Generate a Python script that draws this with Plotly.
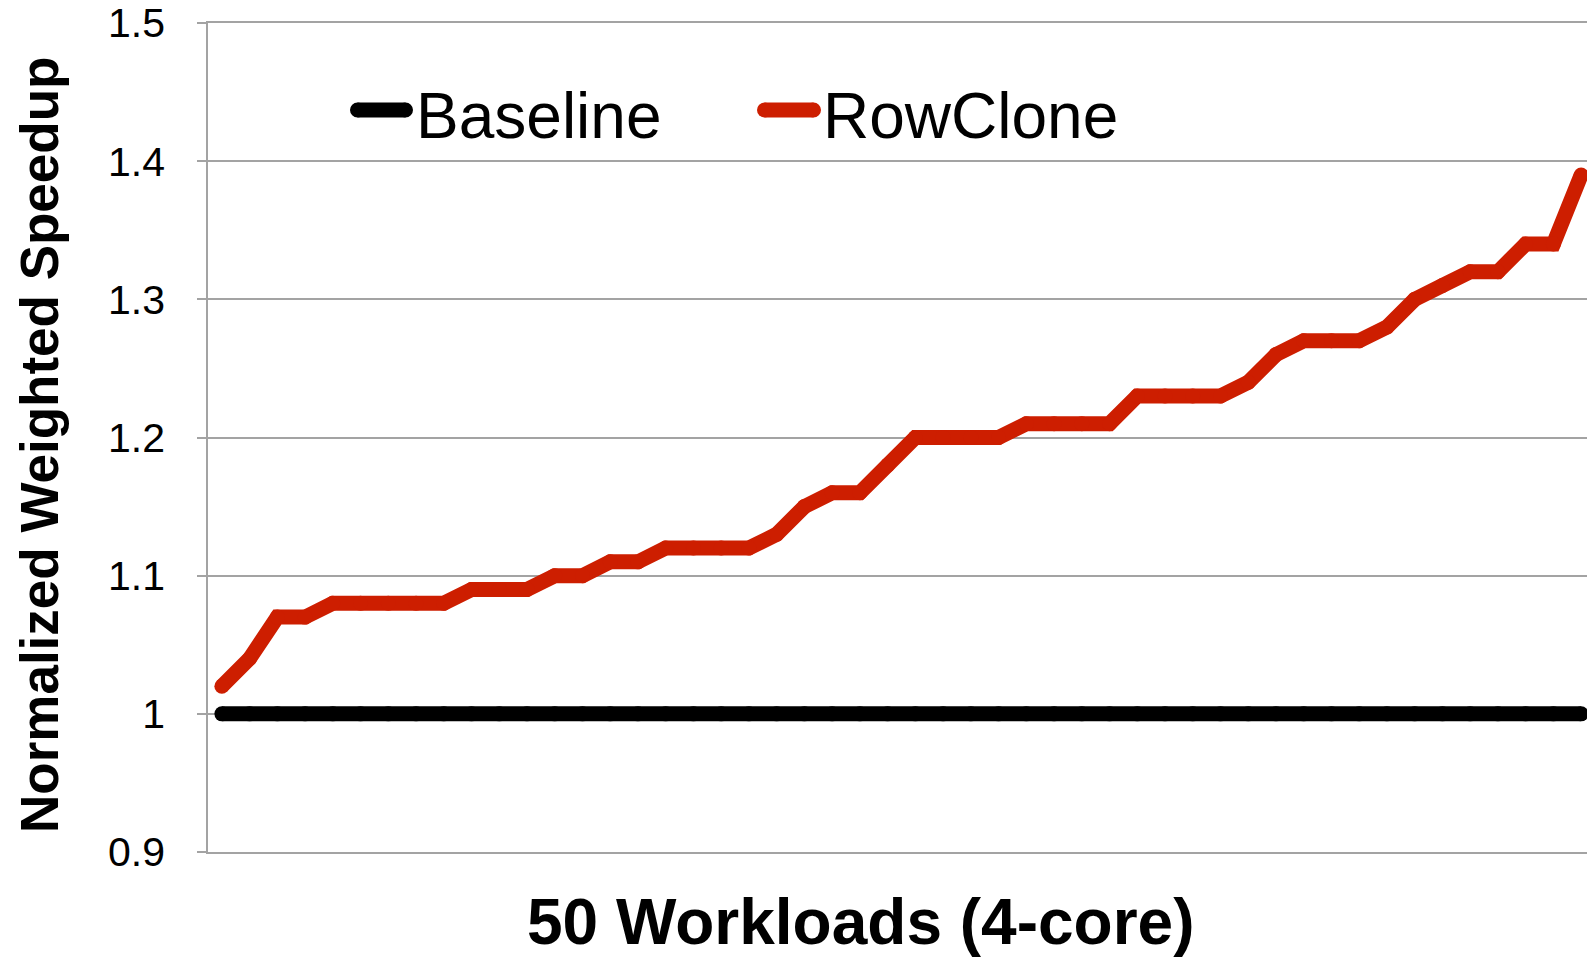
import plotly.graph_objects as go

# ---- data ----
workloads = list(range(1, 51))
baseline = [1.0] * 50
rowclone = [1.02, 1.04, 1.07, 1.07, 1.08, 1.08, 1.08, 1.08, 1.08, 1.09,
            1.09, 1.09, 1.10, 1.10, 1.11, 1.11, 1.12, 1.12, 1.12, 1.12,
            1.13, 1.15, 1.16, 1.16, 1.18, 1.20, 1.20, 1.20, 1.20, 1.21,
            1.21, 1.21, 1.21, 1.23, 1.23, 1.23, 1.23, 1.24, 1.26, 1.27,
            1.27, 1.27, 1.28, 1.30, 1.31, 1.32, 1.32, 1.34, 1.34, 1.39]
y_tickvals = [0.9, 1.0, 1.1, 1.2, 1.3, 1.4, 1.5]
y_ticktext = ["0.9", "1", "1.1", "1.2", "1.3", "1.4", "1.5"]
series_names = ["Baseline", "RowClone"]
x_title = "50 Workloads (4-core)"
y_title = "Normalized Weighted Speedup"

# ---- style ----
W, H = 1595, 958
OFF = 8  # default page body margin shifts the figure by 8px
ML, MR, MT, MB = 200, 8, 15, 114
PW, PH = W - ML - MR, H - MT - MB
FONT = "Liberation Sans, Arial, sans-serif"
BLACK = "#000000"
RED = "rgb(205,30,0)"
GRID = "#A3A3A3"
LW = 15

def px_x(p):  # screenshot pixel -> paper fraction
    return (p - OFF - ML) / PW

def px_y(p):
    return (H - MB - (p - OFF)) / PH

fig = go.Figure()
for name, vals, col in [(series_names[0], baseline, BLACK), (series_names[1], rowclone, RED)]:
    fig.add_trace(go.Scatter(
        x=workloads, y=vals, name=name, mode="lines+markers",
        line=dict(color=col, width=LW),
        marker=dict(color=col, size=LW, line=dict(width=0)),
        showlegend=False, hoverinfo="skip", cliponaxis=False))

shapes = []
annotations = []
# manual legend
legend_items = [(series_names[0], BLACK, 357.5, 405.5, 414),
                (series_names[1], RED, 764.5, 813.5, 821)]
ly = 110
for name, col, x0, x1, tx in legend_items:
    shapes.append(dict(type="line", xref="paper", yref="paper",
                       x0=px_x(x0), x1=px_x(x1), y0=px_y(ly), y1=px_y(ly),
                       line=dict(color=col, width=LW)))
    for cx in (x0, x1):
        shapes.append(dict(type="circle", xref="paper", yref="paper",
                           xsizemode="pixel", ysizemode="pixel",
                           xanchor=px_x(cx), yanchor=px_y(ly),
                           x0=-LW / 2, x1=LW / 2, y0=-LW / 2, y1=LW / 2,
                           fillcolor=col, line=dict(width=0)))
    annotations.append(dict(text=name, xref="paper", yref="paper",
                            x=px_x(tx), y=px_y(116), xanchor="left", yanchor="middle",
                            showarrow=False, font=dict(family=FONT, size=64, color="#000")))

annotations.append(dict(text="<b>%s</b>" % x_title, xref="paper", yref="paper",
                        x=px_x(860), y=px_y(922), xanchor="center", yanchor="middle",
                        showarrow=False, font=dict(family=FONT, size=64, color="#000")))
annotations.append(dict(text="<b>%s</b>" % y_title, xref="paper", yref="paper",
                        x=px_x(39), y=px_y(445), xanchor="center", yanchor="middle",
                        textangle=-90, showarrow=False,
                        font=dict(family=FONT, size=53, color="#000")))

fig.update_layout(
    width=W, height=H,
    margin=dict(l=ML, r=MR, t=MT, b=MB, autoexpand=False),
    paper_bgcolor="white", plot_bgcolor="white",
    font=dict(family=FONT, color="#000"),
    shapes=shapes, annotations=annotations,
    xaxis=dict(range=[0.5, 50.5], showticklabels=False, showgrid=False,
               zeroline=False, showline=True, mirror=True,
               linecolor=GRID, linewidth=1.5, ticks=""),
    yaxis=dict(range=[0.9, 1.5], tickvals=y_tickvals, ticktext=y_ticktext,
               showgrid=True, gridcolor=GRID, gridwidth=1.5,
               showline=True, linecolor=GRID, linewidth=1.5,
               ticks="outside", ticklen=9, tickcolor=GRID, tickwidth=1.5,
               ticklabelstandoff=24, ticklabeloverflow="allow", zeroline=False,
               tickfont=dict(family=FONT, size=41, color="#000")),
)

fig.write_html("out.html")
